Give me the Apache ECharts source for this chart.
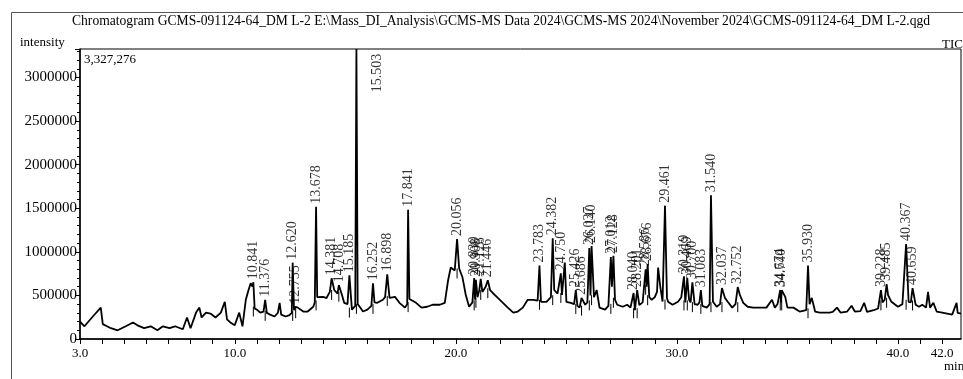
<!DOCTYPE html>
<html>
<head>
<meta charset="utf-8">
<script src="https://cdn.jsdelivr.net/npm/echarts@6/dist/echarts.min.js"></script>
<style>
html,body{margin:0;padding:0;background:#fff;}
#chart{width:963px;height:379px;}
</style>
</head>
<body>
<div id="chart"></div>
<script>
const titleText = 'Chromatogram GCMS-091124-64_DM L-2 E:\\Mass_DI_Analysis\\GCMS-MS Data 2024\\GCMS-MS 2024\\November 2024\\GCMS-091124-64_DM L-2.qgd';
const yAxisName = 'intensity';
const channelName = 'TIC';
const xAxisUnit = 'min';
const maxIntensity = 3327276;
const xTickLabels = [3, 10, 20, 30, 40, 42];

const retentionTime = [
 3.00,3.20,3.58,3.94,4.03,4.40,4.70,5.07,5.40,5.60,5.90,6.20,6.50,6.75,7.05,7.30,7.65,7.84,8.00,8.25,
 8.40,8.50,8.70,8.90,9.13,9.37,9.55,9.65,9.80,10.00,10.20,10.35,10.50,10.62,10.72,10.80,10.841,10.90,11.00,11.15,
 11.30,11.376,11.45,11.60,11.80,11.95,12.03,12.10,12.30,12.45,12.58,12.620,12.68,12.755,12.85,13.10,13.30,13.55,13.62,13.678,
 13.73,14.00,14.15,14.30,14.381,14.50,14.65,14.708,14.85,14.95,15.10,15.185,15.30,15.45,15.503,15.56,15.65,15.80,16.00,16.18,
 16.252,16.32,16.45,16.70,16.80,16.898,17.00,17.25,17.45,17.70,17.80,17.841,17.90,17.98,18.20,18.45,18.70,18.95,19.27,19.50,
 19.65,19.77,19.95,20.056,20.15,20.30,20.45,20.60,20.75,20.830,20.87,20.908,20.98,21.06,21.126,21.20,21.35,21.446,21.55,21.67,
 21.90,22.13,22.35,22.60,22.80,23.03,23.25,23.50,23.70,23.783,23.85,24.10,24.30,24.382,24.45,24.60,24.750,24.80,24.93,25.00,
 25.20,25.35,25.426,25.50,25.60,25.686,25.85,25.95,26.037,26.09,26.140,26.25,26.37,26.50,26.75,26.90,27.012,27.06,27.128,27.20,
 27.30,27.55,27.75,27.90,28.040,28.10,28.201,28.30,28.45,28.586,28.63,28.676,28.75,28.86,29.00,29.10,29.15,29.25,29.35,29.461,
 29.55,29.60,29.80,30.05,30.20,30.319,30.38,30.469,30.55,30.62,30.700,30.80,30.94,31.02,31.083,31.15,31.35,31.48,31.540,31.63,
 31.80,31.95,32.037,32.17,32.30,32.50,32.65,32.752,32.85,33.00,33.20,33.45,33.75,34.05,34.30,34.43,34.55,34.674,34.71,34.740,
 34.90,35.00,35.27,35.55,35.85,35.930,36.00,36.10,36.25,36.46,36.90,37.05,37.24,37.40,37.70,37.90,38.05,38.30,38.47,38.60,
 38.90,39.10,39.228,39.30,39.40,39.485,39.55,39.70,40.00,40.20,40.367,40.48,40.58,40.659,40.80,40.95,41.10,41.27,41.36,41.45,
 41.60,41.75,42.00,42.45,42.65,42.70,42.85
];
const intensity = [
 200000,146000,258000,360000,170000,124000,100000,146000,190000,157000,124000,146000,100000,146000,124000,146000,112000,247000,124000,303000,
 360000,247000,303000,292000,247000,303000,427000,225000,190000,157000,303000,146000,450000,560000,640000,600000,652000,350000,337000,303000,
 315000,450000,300000,280000,258000,300000,415000,280000,258000,270000,300000,876000,330000,370000,360000,315000,315000,370000,420000,1517000,
 480000,483000,470000,540000,697000,562000,520000,618000,505000,415000,400000,730000,337000,380000,3327276,400000,370000,315000,337000,380000,
 640000,420000,415000,450000,480000,742000,472000,483000,415000,360000,400000,1483000,460000,450000,415000,360000,370000,393000,393000,415000,
 674000,820000,787000,1146000,809000,708000,505000,370000,420000,700000,450000,680000,480000,560000,690000,540000,600000,674000,560000,528000,
 472000,415000,360000,303000,315000,360000,450000,450000,440000,843000,427000,427000,480000,1157000,562000,520000,753000,505000,876000,427000,
 415000,400000,562000,380000,360000,472000,393000,420000,1045000,500000,1067000,480000,562000,360000,337000,380000,940000,600000,955000,450000,
 393000,370000,393000,360000,528000,330000,562000,390000,420000,800000,600000,860000,480000,450000,480000,540000,820000,596000,430000,1530000,
 470000,427000,393000,427000,480000,720000,420000,700000,450000,420000,650000,400000,393000,420000,560000,380000,360000,400000,1650000,427000,
 370000,400000,584000,472000,427000,360000,400000,596000,505000,415000,370000,360000,360000,360000,450000,360000,400000,562000,420000,560000,
 483000,360000,360000,315000,330000,843000,400000,472000,315000,303000,303000,310000,360000,303000,315000,382000,315000,320000,415000,310000,
 330000,350000,562000,420000,450000,630000,505000,427000,370000,400000,1090000,427000,420000,584000,393000,370000,393000,360000,540000,360000,
 415000,315000,303000,280000,415000,300000,290000
];

const peakTimes = [10.841,11.376,12.620,12.755,13.678,14.381,14.708,15.185,16.252,16.898,17.841,20.056,20.830,20.908,21.126,21.446,
 23.783,24.382,24.750,25.426,25.686,26.037,26.140,27.012,27.128,28.040,28.201,28.586,28.676,29.461,30.319,30.469,30.700,31.083,
 31.540,32.037,32.752,34.674,34.740,35.930,39.228,39.485,40.367,40.659];
const peakHeights = [652000,450000,876000,370000,1517000,697000,618000,730000,640000,742000,1483000,1146000,700000,680000,690000,674000,
 843000,1157000,753000,562000,472000,1045000,1067000,940000,955000,528000,562000,800000,860000,1530000,720000,700000,650000,560000,
 1650000,584000,596000,562000,560000,843000,562000,630000,1090000,584000];
const mainPeakTime = 15.503;

const chart = echarts.init(document.getElementById('chart'), null, {renderer: 'canvas'});
const FONT = 'Liberation Serif';
const traceData = retentionTime.map((t, i) => [t, intensity[i]]);
const peakData = peakTimes.map((t, i) => ({value: [t, peakHeights[i]], name: t.toFixed(3)}));
// local baseline under each peak (lowest trace value within +-0.12 min), for the peak marker ticks
const markerData = peakTimes.concat([mainPeakTime]).map(t => {
  let m = Infinity;
  retentionTime.forEach((rt, i) => { if (Math.abs(rt - t) <= 0.12) m = Math.min(m, intensity[i]); });
  return [t, m];
});

const option = {
  animation: false,
  backgroundColor: '#fff',
  textStyle: {fontFamily: FONT, color: '#000'},
  title: {
    text: titleText, left: 67, top: 9,
    textStyle: {fontFamily: FONT, fontSize: 13.6, fontWeight: 'normal', color: '#000'}
  },
  grid: {left: 80, right: 2, top: 49, bottom: 40, show: true, borderColor: '#000', borderWidth: 1},
  xAxis: {
    type: 'value', min: 3, max: 42.85, interval: 1,
    axisLine: {show: true, onZero: false, lineStyle: {color: '#000', width: 1.5}},
    axisTick: {show: true, length: 5, lineStyle: {color: '#000', width: 1}},
    axisLabel: {
      color: '#000', fontFamily: FONT, fontSize: 13, margin: 8, showMaxLabel: false, showMinLabel: true,
      formatter: v => {
        const r = Math.round(v);
        return (Math.abs(v - r) < 1e-6 && xTickLabels.includes(r)) ? r.toFixed(1) : '';
      }
    },
    splitLine: {show: false}
  },
  yAxis: {
    type: 'value', min: 0, max: maxIntensity, interval: 500000,
    axisLine: {show: true, lineStyle: {color: '#000', width: 1.5}},
    axisTick: {show: true, length: 5, lineStyle: {color: '#000', width: 1}},
    minorTick: {show: true, splitNumber: 5, length: 3, lineStyle: {color: '#000', width: 1}},
    axisLabel: {
      color: '#000', fontFamily: FONT, fontSize: 15, margin: 3, showMaxLabel: false,
      formatter: v => (v % 500000 === 0 ? String(v) : '')
    },
    splitLine: {show: false}
  },
  series: [
    {
      type: 'line', data: traceData, showSymbol: false, symbol: 'none',
      lineStyle: {color: '#000', width: 1.8}, silent: true, z: 3
    },
    {
      type: 'custom', data: markerData, silent: true, z: 2,
      renderItem: (params, api) => {
        const p = api.coord([api.value(0), api.value(1)]);
        return {type: 'line', shape: {x1: p[0], y1: p[1] - 2, x2: p[0], y2: p[1] + 8},
                style: {stroke: '#000', lineWidth: 1}};
      }
    },
    {
      type: 'scatter', data: peakData, symbolSize: 0, silent: true, z: 4,
      label: {
        show: true, position: 'top', distance: 3, rotate: 90, align: 'left', verticalAlign: 'middle',
        formatter: p => p.name, fontFamily: FONT, fontSize: 14, color: '#000'
      }
    },
    {
      type: 'scatter', data: [{value: [mainPeakTime, maxIntensity], name: mainPeakTime.toFixed(3)}],
      symbolSize: 0, silent: true, z: 4,
      label: {
        show: true, position: 'inside', offset: [-24, 21], rotate: 90, align: 'center', verticalAlign: 'middle',
        formatter: p => p.name, fontFamily: FONT, fontSize: 14, color: '#000'
      }
    }
  ],
  graphic: [
    {type: 'rect', left: 9, top: 10, shape: {width: 1000, height: 1000}, style: {fill: 'none', stroke: '#555', lineWidth: 1}, silent: true},
    {type: 'text', left: 20, top: 36, style: {text: yAxisName, font: '13px "Liberation Serif"', fill: '#000'}},
    {type: 'text', left: 942, top: 38, style: {text: channelName, font: '13px "Liberation Serif"', fill: '#000'}},
    {type: 'text', left: 944, top: 360, style: {text: xAxisUnit, font: '13px "Liberation Serif"', fill: '#000'}},
    {type: 'text', left: 84, top: 53, style: {text: maxIntensity.toLocaleString('en-US'), font: '13px "Liberation Serif"', fill: '#000'}}
  ]
};
chart.setOption(option);
</script>
</body>
</html>
